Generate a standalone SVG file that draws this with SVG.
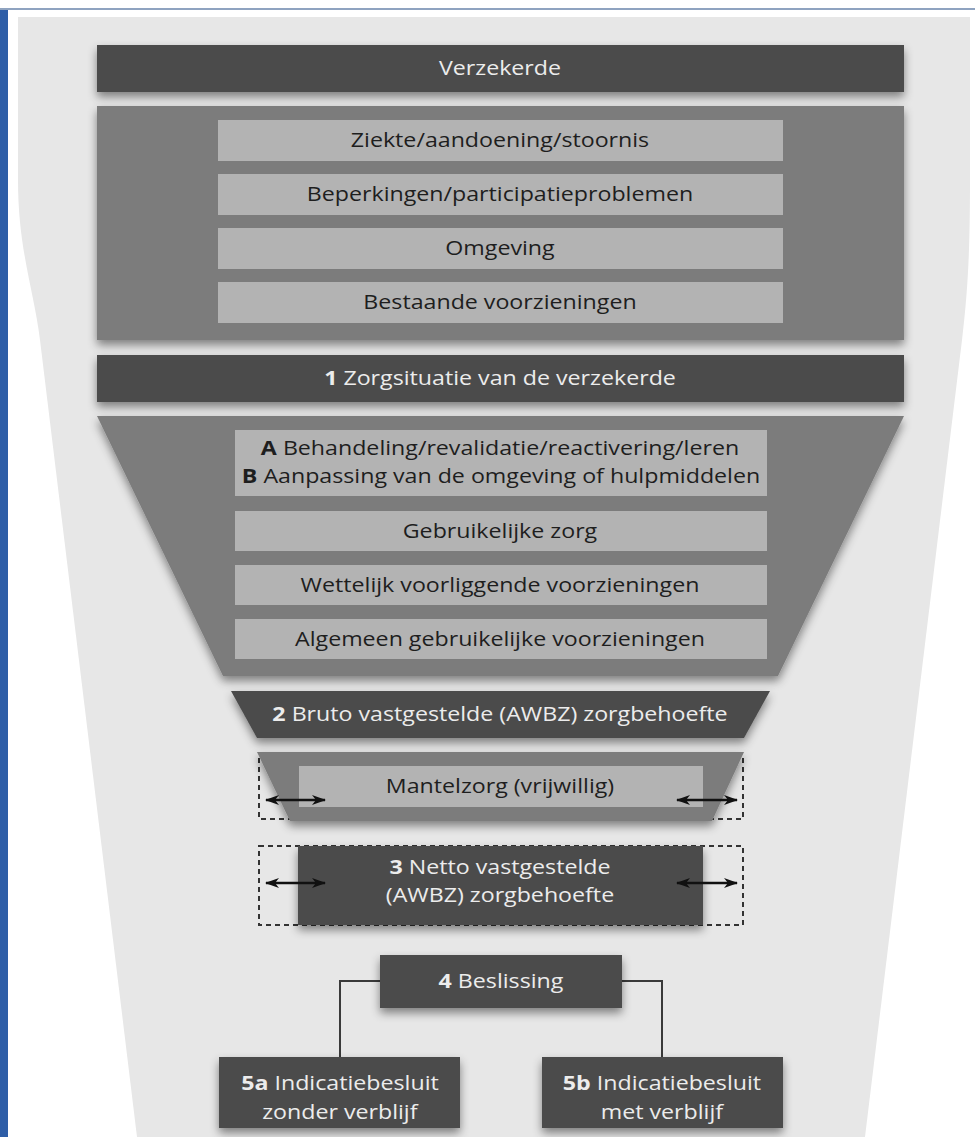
<svg xmlns="http://www.w3.org/2000/svg" width="975" height="1137" viewBox="0 0 975 1137">
<defs>
<filter id="sh" x="-10%" y="-30%" width="120%" height="170%">
<feDropShadow dx="0" dy="5" stdDeviation="5" flood-color="#000" flood-opacity="0.45"/>
</filter>
<marker id="ah" viewBox="0 0 14 10" refX="13" refY="5" markerWidth="14" markerHeight="10" markerUnits="userSpaceOnUse" orient="auto-start-reverse">
<path d="M0,0 L14,5 L0,10 L4,5 Z" fill="#111"/>
</marker>
<style>
.dark{fill:#4b4b4b}
.mid{fill:#7b7b7b}
.light{fill:#b3b3b3}
.t{font-family:"Open Sans","Liberation Sans",sans-serif;font-size:20px;text-anchor:middle;transform-box:fill-box;transform-origin:center;transform:scaleX(1.16)}
.tl{fill:#ececec}
.td{fill:#1e1e1e}
.b{font-weight:bold}
.dash{fill:none;stroke:#333;stroke-width:2;stroke-dasharray:5 4}
.arr{stroke:#111;stroke-width:2.5;marker-start:url(#ah);marker-end:url(#ah)}
.con{fill:none;stroke:#3a3a3a;stroke-width:2}
</style>
</defs>
<rect width="975" height="1137" fill="#fff"/>
<rect x="0" y="8" width="975" height="2" fill="#8fa3c0"/>
<rect x="0" y="10" width="8" height="1127" fill="#2e5ea7"/>
<path d="M18,17 H970 V180 C970,250 968,290 962,340 L865,1137 H137 L40,340 C34,290 18,250 18,180 Z" fill="#e7e7e7"/>

<g id="brackets">
<path class="dash" d="M259,758 V819 H292 M743,758 V819 H710"/>
<rect class="dash" x="259" y="846" width="484" height="79"/>
</g>

<g id="verzekerde">
<rect class="dark" x="97" y="45" width="807" height="47" filter="url(#sh)"/>
<text class="t tl" x="500" y="75">Verzekerde</text>
</g>

<g id="situatie">
<rect class="mid" x="97" y="106" width="807" height="234" filter="url(#sh)"/>
<rect class="light" x="218" y="120" width="565" height="41"/>
<text class="t td" x="500" y="147">Ziekte/aandoening/stoornis</text>
<rect class="light" x="218" y="174" width="565" height="41"/>
<text class="t td" x="500" y="201">Beperkingen/participatieproblemen</text>
<rect class="light" x="218" y="228" width="565" height="41"/>
<text class="t td" x="500" y="255">Omgeving</text>
<rect class="light" x="218" y="282" width="565" height="41"/>
<text class="t td" x="500" y="309">Bestaande voorzieningen</text>
</g>

<g id="zorgsituatie">
<rect class="dark" x="97" y="355" width="807" height="47" filter="url(#sh)"/>
<text class="t tl" x="500" y="385"><tspan class="b">1</tspan> Zorgsituatie van de verzekerde</text>
</g>

<g id="funnel">
<path class="mid" d="M97,416 H904 L778,676 H223 Z" filter="url(#sh)"/>
<rect class="light" x="235" y="430" width="532" height="66"/>
<text class="t td" x="500" y="455"><tspan class="b">A</tspan> Behandeling/revalidatie/reactivering/leren</text>
<text class="t td" x="501" y="483"><tspan class="b">B</tspan> Aanpassing van de omgeving of hulpmiddelen</text>
<rect class="light" x="235" y="511" width="532" height="40"/>
<text class="t td" x="500" y="538">Gebruikelijke zorg</text>
<rect class="light" x="235" y="565" width="532" height="40"/>
<text class="t td" x="500" y="592">Wettelijk voorliggende voorzieningen</text>
<rect class="light" x="235" y="619" width="532" height="40"/>
<text class="t td" x="500" y="646">Algemeen gebruikelijke voorzieningen</text>
</g>

<g id="bruto">
<path class="dark" d="M231,691 H770 L744,738 H257 Z" filter="url(#sh)"/>
<text class="t tl" x="500" y="721"><tspan class="b">2</tspan> Bruto vastgestelde (AWBZ) zorgbehoefte</text>
</g>

<g id="mantelzorg">
<path class="mid" d="M257,752 H744 L712,821 H290 Z" filter="url(#sh)"/>
<rect class="light" x="299" y="766" width="404" height="41"/>
<text class="t td" x="500" y="793">Mantelzorg (vrijwillig)</text>
</g>

<g id="netto">
<rect class="dark" x="298" y="846" width="405" height="79" filter="url(#sh)"/>
<text class="t tl" x="500" y="874"><tspan class="b">3</tspan> Netto vastgestelde</text>
<text class="t tl" x="500" y="902">(AWBZ) zorgbehoefte</text>
</g>

<g id="connectors">
<line class="arr" x1="266" y1="800" x2="325" y2="800"/>
<line class="arr" x1="677" y1="800" x2="737" y2="800"/>
<line class="arr" x1="266" y1="883" x2="325" y2="883"/>
<line class="arr" x1="677" y1="883" x2="737" y2="883"/>
<path class="con" d="M380,981 H340 V1057"/>
<path class="con" d="M622,981 H662 V1057"/>
</g>

<g id="beslissing">
<rect class="dark" x="380" y="955" width="242" height="53" filter="url(#sh)"/>
<text class="t tl" x="501" y="988"><tspan class="b">4</tspan> Beslissing</text>
</g>

<g id="besluit5a">
<rect class="dark" x="219" y="1057" width="241" height="71" filter="url(#sh)"/>
<text class="t tl" x="340" y="1090"><tspan class="b">5a</tspan> Indicatiebesluit</text>
<text class="t tl" x="340" y="1119">zonder verblijf</text>
</g>

<g id="besluit5b">
<rect class="dark" x="542" y="1057" width="241" height="71" filter="url(#sh)"/>
<text class="t tl" x="662" y="1090"><tspan class="b">5b</tspan> Indicatiebesluit</text>
<text class="t tl" x="662" y="1119">met verblijf</text>
</g>
</svg>
